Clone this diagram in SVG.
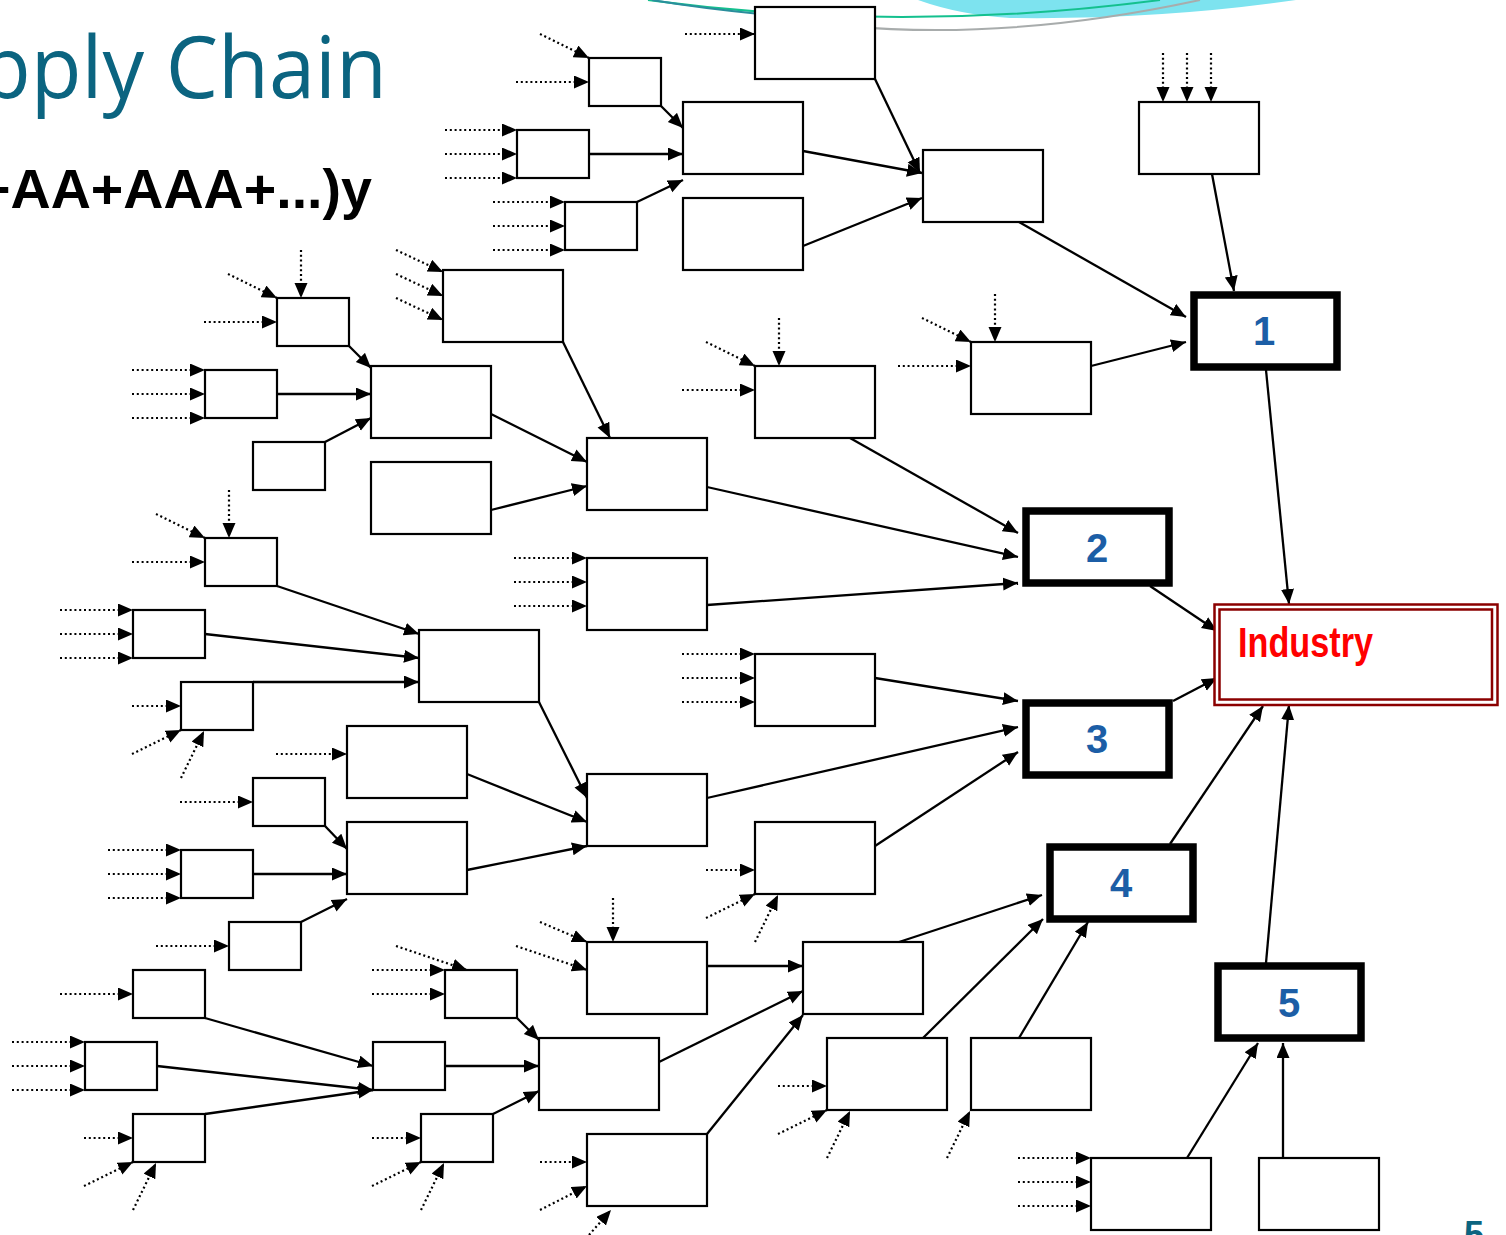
<svg xmlns="http://www.w3.org/2000/svg" width="1506" height="1235" viewBox="0 0 1506 1235">
<defs>
<marker id="ah" markerUnits="userSpaceOnUse" markerWidth="16" markerHeight="14" refX="15" refY="6.5" orient="auto">
<path d="M0,0 L15,6.5 L0,13 z" fill="#000"/>
</marker>
<style>
.b{fill:#fff;stroke:#000;stroke-width:2.2}
.t{fill:#fff;stroke:#000;stroke-width:7.5}
.c{fill:none;stroke:#000;stroke-width:2.3;marker-end:url(#ah)}
.d{fill:none;stroke:#000;stroke-width:2.2;stroke-dasharray:2 2.8;marker-end:url(#ah)}
.n{font-family:"Liberation Sans",Arial,sans-serif;font-weight:bold;font-size:40px;fill:#1c5ea6;text-anchor:middle}
</style>
</defs>
<rect width="1506" height="1235" fill="#fff"/>
<g id="decor">
<path d="M918,0 Q960,15 1010,18 Q1160,20 1296,0 Z" fill="#7de3ef"/>
<path d="M648,0 Q900,34 1160,0" fill="none" stroke="#14c08e" stroke-width="2"/>
<path d="M652,0 Q700,8 760,14" fill="none" stroke="#2a8e9c" stroke-width="2"/>
<path d="M760,14 Q960,52 1200,0" fill="none" stroke="#a8acac" stroke-width="2"/>
</g>
<g id="title">
<text x="-20" y="98" font-family="'Open Sans','Noto Sans',sans-serif" font-size="86" fill="#0b6480" textLength="407" lengthAdjust="spacingAndGlyphs">pply Chain</text>
<text x="-22" y="208" font-family="'Liberation Sans',Arial,sans-serif" font-weight="bold" font-size="56" fill="#000" textLength="394" lengthAdjust="spacingAndGlyphs">+AA+AAA+...)y</text>
</g>
<g id="connectors">
<g id="links">
<path class="c" d="M661,106 L683,128"/>
<path class="c" d="M589,154 L683,154"/>
<path class="c" d="M637,202 L683,180"/>
<path class="c" d="M875,79 L920,173"/>
<path class="c" d="M803,151 L922,173"/>
<path class="c" d="M803,246 L922,198"/>
<path class="c" d="M1019,222 L1186,317"/>
<path class="c" d="M1212,174 L1234,291"/>
<path class="c" d="M1091,366 L1186,342"/>
<path class="c" d="M1266,370 L1289,604"/>
<path class="c" d="M349,346 L371,368"/>
<path class="c" d="M277,394 L371,394"/>
<path class="c" d="M325,442 L371,418"/>
<path class="c" d="M563,342 L610,438"/>
<path class="c" d="M491,414 L587,462"/>
<path class="c" d="M491,510 L587,486"/>
<path class="c" d="M850,438 L1018,533"/>
<path class="c" d="M707,487 L1018,557"/>
<path class="c" d="M707,605 L1018,583"/>
<path class="c" d="M1150,586 L1217,631"/>
<path class="c" d="M277,586 L419,634"/>
<path class="c" d="M205,634 L419,658"/>
<path class="c" d="M253,682 L419,682"/>
<path class="c" d="M325,826 L347,849"/>
<path class="c" d="M253,874 L347,874"/>
<path class="c" d="M301,922 L347,899"/>
<path class="c" d="M539,702 L587,798"/>
<path class="c" d="M467,774 L587,822"/>
<path class="c" d="M467,870 L587,846"/>
<path class="c" d="M875,678 L1018,701"/>
<path class="c" d="M707,798 L1018,727"/>
<path class="c" d="M875,846 L1018,752"/>
<path class="c" d="M1173,701 L1217,678"/>
<path class="c" d="M205,1018 L373,1066"/>
<path class="c" d="M157,1066 L373,1090"/>
<path class="c" d="M205,1114 L373,1090"/>
<path class="c" d="M517,1018 L539,1040"/>
<path class="c" d="M445,1066 L539,1066"/>
<path class="c" d="M493,1114 L539,1091"/>
<path class="c" d="M707,966 L803,966"/>
<path class="c" d="M659,1062 L803,991"/>
<path class="c" d="M707,1134 L803,1015"/>
<path class="c" d="M899,942 L1042,895"/>
<path class="c" d="M923,1038 L1043,919"/>
<path class="c" d="M1019,1038 L1088,922"/>
<path class="c" d="M1170,844 L1263,706"/>
<path class="c" d="M1187,1158 L1258,1043"/>
<path class="c" d="M1283,1158 L1283,1043"/>
<path class="c" d="M1266,963 L1289,705"/>
</g>
<g id="inputs">
<path class="d" d="M685,34 L755,34"/>
<path class="d" d="M540,34 L589,58"/>
<path class="d" d="M516,82 L589,82"/>
<path class="d" d="M445,130 L517,130"/>
<path class="d" d="M445,154 L517,154"/>
<path class="d" d="M445,178 L517,178"/>
<path class="d" d="M493,202 L565,202"/>
<path class="d" d="M493,226 L565,226"/>
<path class="d" d="M493,250 L565,250"/>
<path class="d" d="M1163,53 L1163,102"/>
<path class="d" d="M1187,53 L1187,102"/>
<path class="d" d="M1211,53 L1211,102"/>
<path class="d" d="M228,274 L277,298"/>
<path class="d" d="M301,250 L301,298"/>
<path class="d" d="M204,322 L277,322"/>
<path class="d" d="M132,370 L205,370"/>
<path class="d" d="M132,394 L205,394"/>
<path class="d" d="M132,418 L205,418"/>
<path class="d" d="M396,250 L443,272"/>
<path class="d" d="M396,274 L443,296"/>
<path class="d" d="M396,298 L443,320"/>
<path class="d" d="M706,342 L755,366"/>
<path class="d" d="M779,318 L779,366"/>
<path class="d" d="M682,390 L755,390"/>
<path class="d" d="M922,318 L971,342"/>
<path class="d" d="M995,294 L995,342"/>
<path class="d" d="M898,366 L971,366"/>
<path class="d" d="M514,558 L587,558"/>
<path class="d" d="M514,582 L587,582"/>
<path class="d" d="M514,606 L587,606"/>
<path class="d" d="M156,514 L205,538"/>
<path class="d" d="M229,490 L229,538"/>
<path class="d" d="M132,562 L205,562"/>
<path class="d" d="M60,610 L133,610"/>
<path class="d" d="M60,634 L133,634"/>
<path class="d" d="M60,658 L133,658"/>
<path class="d" d="M132,706 L181,706"/>
<path class="d" d="M132,754 L181,730"/>
<path class="d" d="M181,778 L204,731"/>
<path class="d" d="M276,754 L347,754"/>
<path class="d" d="M180,802 L253,802"/>
<path class="d" d="M108,850 L181,850"/>
<path class="d" d="M108,874 L181,874"/>
<path class="d" d="M108,898 L181,898"/>
<path class="d" d="M156,946 L229,946"/>
<path class="d" d="M682,654 L755,654"/>
<path class="d" d="M682,678 L755,678"/>
<path class="d" d="M682,702 L755,702"/>
<path class="d" d="M706,870 L755,870"/>
<path class="d" d="M706,918 L755,894"/>
<path class="d" d="M755,942 L778,895"/>
<path class="d" d="M60,994 L133,994"/>
<path class="d" d="M12,1042 L85,1042"/>
<path class="d" d="M12,1066 L85,1066"/>
<path class="d" d="M12,1090 L85,1090"/>
<path class="d" d="M84,1138 L133,1138"/>
<path class="d" d="M84,1186 L133,1162"/>
<path class="d" d="M133,1210 L156,1163"/>
<path class="d" d="M372,970 L445,970"/>
<path class="d" d="M372,994 L445,994"/>
<path class="d" d="M396,946 L467,970"/>
<path class="d" d="M372,1138 L421,1138"/>
<path class="d" d="M372,1186 L421,1162"/>
<path class="d" d="M421,1210 L444,1163"/>
<path class="d" d="M540,922 L587,942"/>
<path class="d" d="M516,946 L587,970"/>
<path class="d" d="M613,898 L613,942"/>
<path class="d" d="M540,1162 L587,1162"/>
<path class="d" d="M540,1210 L587,1186"/>
<path class="d" d="M589,1235 L611,1210"/>
<path class="d" d="M778,1086 L827,1086"/>
<path class="d" d="M778,1134 L827,1110"/>
<path class="d" d="M827,1158 L850,1111"/>
<path class="d" d="M947,1158 L970,1111"/>
<path class="d" d="M1018,1158 L1091,1158"/>
<path class="d" d="M1018,1182 L1091,1182"/>
<path class="d" d="M1018,1206 L1091,1206"/>
</g>
</g>
<g id="A1"><rect class="b" x="755" y="7" width="120" height="72"/></g>
<g id="A2"><rect class="b" x="589" y="58" width="72" height="48"/></g>
<g id="A3"><rect class="b" x="517" y="130" width="72" height="48"/></g>
<g id="A4"><rect class="b" x="565" y="202" width="72" height="48"/></g>
<g id="B1"><rect class="b" x="683" y="102" width="120" height="72"/></g>
<g id="B2"><rect class="b" x="683" y="198" width="120" height="72"/></g>
<g id="C1"><rect class="b" x="923" y="150" width="120" height="72"/></g>
<g id="D1"><rect class="b" x="1139" y="102" width="120" height="72"/></g>
<g id="F1"><rect class="b" x="277" y="298" width="72" height="48"/></g>
<g id="F2"><rect class="b" x="205" y="370" width="72" height="48"/></g>
<g id="F3"><rect class="b" x="253" y="442" width="72" height="48"/></g>
<g id="G1"><rect class="b" x="371" y="366" width="120" height="72"/></g>
<g id="G2"><rect class="b" x="371" y="462" width="120" height="72"/></g>
<g id="H1"><rect class="b" x="443" y="270" width="120" height="72"/></g>
<g id="I1"><rect class="b" x="587" y="438" width="120" height="72"/></g>
<g id="J1"><rect class="b" x="755" y="366" width="120" height="72"/></g>
<g id="K1"><rect class="b" x="971" y="342" width="120" height="72"/></g>
<g id="L1"><rect class="b" x="587" y="558" width="120" height="72"/></g>
<g id="M1"><rect class="b" x="205" y="538" width="72" height="48"/></g>
<g id="M2"><rect class="b" x="133" y="610" width="72" height="48"/></g>
<g id="M3"><rect class="b" x="181" y="682" width="72" height="48"/></g>
<g id="N1"><rect class="b" x="419" y="630" width="120" height="72"/></g>
<g id="O1"><rect class="b" x="347" y="726" width="120" height="72"/></g>
<g id="O2"><rect class="b" x="253" y="778" width="72" height="48"/></g>
<g id="O3"><rect class="b" x="181" y="850" width="72" height="48"/></g>
<g id="O4"><rect class="b" x="229" y="922" width="72" height="48"/></g>
<g id="P1"><rect class="b" x="347" y="822" width="120" height="72"/></g>
<g id="Q1"><rect class="b" x="587" y="774" width="120" height="72"/></g>
<g id="R1"><rect class="b" x="755" y="654" width="120" height="72"/></g>
<g id="R2"><rect class="b" x="755" y="822" width="120" height="72"/></g>
<g id="S1"><rect class="b" x="133" y="970" width="72" height="48"/></g>
<g id="S2"><rect class="b" x="85" y="1042" width="72" height="48"/></g>
<g id="S3"><rect class="b" x="133" y="1114" width="72" height="48"/></g>
<g id="T1"><rect class="b" x="373" y="1042" width="72" height="48"/></g>
<g id="T2"><rect class="b" x="445" y="970" width="72" height="48"/></g>
<g id="T3"><rect class="b" x="421" y="1114" width="72" height="48"/></g>
<g id="U1"><rect class="b" x="539" y="1038" width="120" height="72"/></g>
<g id="V1"><rect class="b" x="587" y="942" width="120" height="72"/></g>
<g id="V2"><rect class="b" x="587" y="1134" width="120" height="72"/></g>
<g id="W1"><rect class="b" x="803" y="942" width="120" height="72"/></g>
<g id="W2"><rect class="b" x="827" y="1038" width="120" height="72"/></g>
<g id="W3"><rect class="b" x="971" y="1038" width="120" height="72"/></g>
<g id="X1"><rect class="b" x="1091" y="1158" width="120" height="72"/></g>
<g id="X2"><rect class="b" x="1259" y="1158" width="120" height="72"/></g>
<g id="n1"><rect class="t" x="1194" y="295" width="143" height="72"/><text class="n" x="1264" y="345">1</text></g>
<g id="n2"><rect class="t" x="1026" y="511" width="143" height="72"/><text class="n" x="1097" y="562">2</text></g>
<g id="n3"><rect class="t" x="1026" y="703" width="143" height="72"/><text class="n" x="1097" y="753">3</text></g>
<g id="n4"><rect class="t" x="1050" y="847" width="143" height="72"/><text class="n" x="1121" y="897">4</text></g>
<g id="n5"><rect class="t" x="1218" y="966" width="143" height="72"/><text class="n" x="1289" y="1017">5</text></g>
<g id="industry">
<rect x="1214.5" y="604.5" width="283" height="100.5" fill="#fff" stroke="#8b0000" stroke-width="2.5"/>
<rect x="1219.5" y="609.5" width="272.5" height="90" fill="none" stroke="#8b0000" stroke-width="2.5"/>
<text x="1238" y="657" font-family="'Liberation Sans',Arial,sans-serif" font-weight="bold" font-size="42" fill="#ff0000" textLength="135" lengthAdjust="spacingAndGlyphs">Industry</text>
</g>
<g id="pagenum"><text x="1464" y="1247" font-family="'Liberation Sans',Arial,sans-serif" font-weight="bold" font-size="36" fill="#0b6480">5</text></g>
</svg>
